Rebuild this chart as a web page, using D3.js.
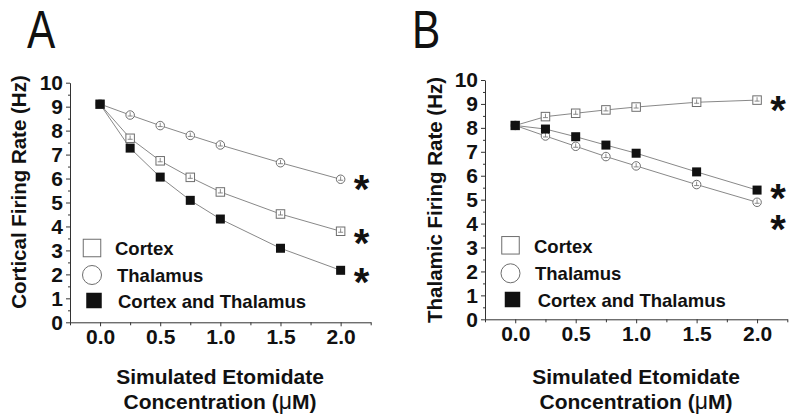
<!DOCTYPE html>
<html>
<head>
<meta charset="utf-8">
<script src="https://cdn.jsdelivr.net/npm/d3@7/dist/d3.min.js"></script>
<style>
  html, body { margin: 0; padding: 0; background: #fff; }
  svg { display: block; }
  text { font-family: Arial, "Liberation Sans", sans-serif; }
</style>
</head>
<body>
<svg id="chart" width="800" height="417"></svg>
<script>
// ---- data ----
const concentrations = [0, 0.25, 0.5, 0.75, 1.0, 1.5, 2.0];
const xTickValues = [0, 0.5, 1.0, 1.5, 2.0];
const yTickValues = [0, 1, 2, 3, 4, 5, 6, 7, 8, 9, 10];
const seriesNames = ["Cortex", "Thalamus", "Cortex and Thalamus"];

const corticalCortex   = [9.10, 7.68, 6.74, 6.05, 5.44, 4.52, 3.80];
const corticalThalamus = [9.11, 8.65, 8.21, 7.80, 7.40, 6.66, 5.97];
const corticalBoth     = [9.10, 7.27, 6.06, 5.09, 4.31, 3.09, 2.17];

const thalamicCortex   = [8.10, 8.47, 8.61, 8.75, 8.87, 9.07, 9.16];
const thalamicThalamus = [8.10, 7.66, 7.23, 6.80, 6.41, 5.63, 4.89];
const thalamicBoth     = [8.10, 7.95, 7.63, 7.28, 6.94, 6.16, 5.40];

const semValue = 0.12;

// ---- layout ----
const panels = [
  { letter: "A", letterX: 27, ylabel: "Cortical Firing Rate (Hz)", ylabelX: 26, ylabelY: 192,
    x0: 70, x1: 370.7, yTop: 82.7, yBot: 322.3, titleX: 220,
    series: [corticalCortex, corticalThalamus, corticalBoth],
    starDy: [4.4, 2.4, 4.7],
    leg: { x: 70, mark: 22, text: 45, textShift: [0, 2, 3], y: [248, 275, 300.5], base: [254.5, 281.7, 308.3] } },
  { letter: "B", letterX: 412, ylabel: "Thalamic Firing Rate (Hz)", ylabelX: 442, ylabelY: 200,
    x0: 485, x1: 787.3, yTop: 80, yBot: 319.3, titleX: 636,
    series: [thalamicCortex, thalamicThalamus, thalamicBoth],
    starDy: [3.3, 19.4, 0.7],
    leg: { x: 485, mark: 25.5, text: 49, textShift: [0, 1, 3.7], y: [245.3, 273.3, 299.5], base: [253.3, 280.3, 306.7] } }
];

const svg = d3.select("#chart");
const lineColor = "#7a7a7a";
const markStroke = "#6e6e6e";

panels.forEach(p => {
  const g = svg.append("g");
  const x = d3.scaleLinear().domain([-0.25, 2.25]).range([p.x0, p.x1]);
  const y = d3.scaleLinear().domain([0, 10]).range([p.yBot, p.yTop]);

  // panel letter (condensed look)
  g.append("text").attr("transform", `translate(${p.letterX},48) scale(0.8,1)`)
    .attr("font-size", 53).attr("fill", "#111").text(p.letter);

  // y axis (major + minor)
  const yMinor = d3.range(0.5, 10, 1);
  g.append("g").attr("transform", `translate(${p.x0},0)`)
    .call(d3.axisLeft(y).tickValues(yMinor).tickSize(2).tickSizeOuter(0).tickFormat(""))
    .call(a => a.select(".domain").remove());
  const ya = g.append("g").attr("transform", `translate(${p.x0},0)`)
    .call(d3.axisLeft(y).tickValues(yTickValues).tickSize(4).tickSizeOuter(0).tickPadding(3).tickFormat(d3.format("d")));
  ya.selectAll("text").attr("font-size", 21).attr("font-weight", "bold").attr("fill", "#111")
    .attr("font-family", "Arial, 'Liberation Sans', sans-serif");

  // x axis (major + minor)
  const xMinor = d3.range(-0.25, 2.26, 0.5);
  const xBase = p.yBot;
  g.append("g").attr("transform", `translate(0,${xBase})`)
    .call(d3.axisBottom(x).tickValues(xMinor).tickSize(3).tickSizeOuter(0).tickFormat(""))
    .call(a => a.select(".domain").remove());
  const xa = g.append("g").attr("transform", `translate(0,${xBase})`)
    .call(d3.axisBottom(x).tickValues(xTickValues).tickSize(4).tickSizeOuter(0).tickPadding(3).tickFormat(d3.format(".1f")));
  xa.selectAll("text").attr("font-size", 21).attr("font-weight", "bold").attr("fill", "#111")
    .attr("font-family", "Arial, 'Liberation Sans', sans-serif");
  g.selectAll(".domain, .tick line").attr("stroke", "#333").attr("stroke-width", 1);

  // y label
  g.append("text")
    .attr("transform", `translate(${p.ylabelX},${p.ylabelY}) rotate(-90)`)
    .attr("text-anchor", "middle").attr("font-size", 20.5).attr("font-weight", "bold").attr("fill", "#111")
    .text(p.ylabel);

  // x title
  const xt = g.append("text").attr("text-anchor", "middle").attr("font-size", 21)
    .attr("font-weight", "bold").attr("fill", "#111");
  xt.append("tspan").attr("x", p.titleX).attr("y", 384).text("Simulated Etomidate");
  const t2 = xt.append("tspan").attr("x", p.titleX).attr("y", 409);
  t2.append("tspan").text("Concentration (");
  t2.append("tspan").attr("font-weight", "normal").attr("font-size", 23).text("\u03BC");
  t2.append("tspan").text("M)");

  // lines
  const line = d3.line().x((d, i) => x(concentrations[i])).y(d => y(d));
  p.series.forEach(s => {
    g.append("path").datum(s).attr("d", line).attr("fill", "none")
      .attr("stroke", lineColor).attr("stroke-width", 0.9);
  });

  // markers
  const drawMarker = (sel, type, cx, cy, size) => {
    if (type === 0) {
      sel.append("rect").attr("x", cx - size / 2).attr("y", cy - size / 2)
        .attr("width", size).attr("height", size)
        .attr("fill", "#fff").attr("stroke", markStroke).attr("stroke-width", 1);
    } else if (type === 1) {
      sel.append("circle").attr("cx", cx).attr("cy", cy).attr("r", size / 2)
        .attr("fill", "#fff").attr("stroke", markStroke).attr("stroke-width", 1);
    } else {
      sel.append("rect").attr("x", cx - size / 2).attr("y", cy - size / 2)
        .attr("width", size).attr("height", size).attr("fill", "#111");
    }
  };
  p.series.forEach((s, si) => {
    s.forEach((v, i) => {
      const cx = x(concentrations[i]), cy = y(v);
      drawMarker(g, si, cx, cy, si === 2 ? 9 : 8.5);
      if (si !== 2) {
        const top = y(v + semValue);
        g.append("line").attr("x1", cx).attr("x2", cx).attr("y1", cy + 1).attr("y2", top)
          .attr("stroke", markStroke).attr("stroke-width", 0.8);
        g.append("line").attr("x1", cx - 2.5).attr("x2", cx + 2.5).attr("y1", cy + 1).attr("y2", cy + 1)
          .attr("stroke", markStroke).attr("stroke-width", 0.8);
      }
    });
  });

  // significance stars
  p.series.forEach((s, si) => {
    const last = s.length - 1;
    g.append("text").attr("x", x(concentrations[last]) + 21).attr("y", y(s[last]) + p.starDy[si] + 21)
      .attr("text-anchor", "middle").attr("font-size", 40).attr("font-weight", "bold").attr("fill", "#111")
      .text("*");
  });

  // legend
  const L = p.leg;
  drawMarker(g, 0, L.x + L.mark, L.y[0], 17.5);
  drawMarker(g, 1, L.x + L.mark, L.y[1], 19);
  drawMarker(g, 2, L.x + L.mark + 2, L.y[2], 15.5);
  seriesNames.forEach((n, i) => {
    g.append("text").attr("x", L.x + L.text + L.textShift[i]).attr("y", L.base[i])
      .attr("font-size", 18.5).attr("font-weight", "bold").attr("fill", "#111").text(n);
  });
});
</script>
</body>
</html>
